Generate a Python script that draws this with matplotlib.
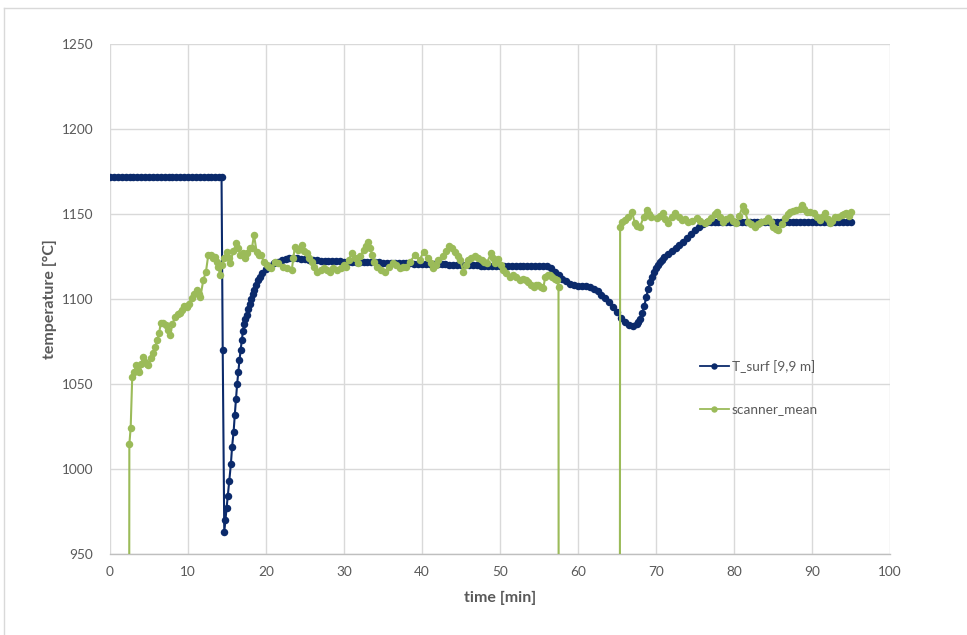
import numpy as np
import matplotlib
matplotlib.use("Agg")
import matplotlib.pyplot as plt
from matplotlib.lines import Line2D

plt.rcParams['font.family'] = ['Lato', 'DejaVu Sans']

# ---------------- data ----------------
x_ticks = [0, 10, 20, 30, 40, 50, 60, 70, 80, 90, 100]
y_ticks = [950, 1000, 1050, 1100, 1150, 1200, 1250]

series_names = ["T_surf [9,9 m]", "scanner_mean"]

# T_surf : flat start (0 .. 14.0 every 0.5 min)
ts_t_a = np.arange(0, 14.01, 0.5)
ts_v_a = [1172, 1172, 1172, 1172, 1172, 1172, 1172, 1172, 1172, 1172,
          1172, 1172, 1172, 1172, 1172, 1172, 1172, 1172, 1172, 1172,
          1172, 1172, 1172, 1172, 1172, 1172, 1172, 1172, 1172]
# T_surf : drop and recovery
ts_t_b = [14.3, 14.45, 14.65, 14.8, 14.95, 15.1, 15.3, 15.5, 15.65, 15.85,
          16.0, 16.15, 16.3, 16.45, 16.6, 16.75, 16.9, 17.05, 17.2, 17.35,
          17.5, 17.7, 17.9, 18.1, 18.3, 18.5, 18.75, 19.0, 19.25]
ts_v_b = [1172, 1070, 963, 970, 977, 984, 993, 1003, 1013, 1022,
          1032, 1041, 1050, 1057, 1064, 1070, 1076, 1081, 1085, 1088,
          1090.5, 1094, 1097, 1100, 1103, 1105.5, 1108, 1111, 1113]
# T_surf : 19.5 .. 67.5 every 0.5 min
ts_t_c = np.arange(19.5, 67.51, 0.5)
ts_v_c = [1115, 1117.5, 1119.5, 1121, 1122, 1123, 1123.5, 1124, 1124, 1124,
          1123.8, 1123.5, 1123.2, 1123, 1122.8, 1122.6, 1122.5, 1122.4, 1122.3, 1122.2,
          1122.1, 1122, 1122, 1121.9, 1121.8, 1121.8, 1121.7, 1121.6, 1121.6, 1121.5,
          1121.5, 1121.4, 1121.3, 1121.3, 1121.2, 1121.1, 1121, 1121, 1120.9, 1120.8,
          1120.8, 1120.7, 1120.6, 1120.6, 1120.5, 1120.4, 1120.4, 1120.3, 1120.2, 1120.2,
          1120.1, 1120, 1120, 1119.9, 1119.8, 1119.8, 1119.7, 1119.6, 1119.6, 1119.5,
          1119.5, 1119.5, 1119.5, 1119.5, 1119.5, 1119.5, 1119.5, 1119.5, 1119.5, 1119.5,
          1119.5, 1119.5, 1119.5, 1119.5, 1118, 1116, 1114, 1112, 1110.5, 1109,
          1108, 1107.8, 1107.8, 1107.5, 1107, 1106, 1104.5, 1102.5, 1100.3, 1098,
          1095.5, 1092.5, 1089, 1086.5, 1084.5, 1084, 1085]
# T_surf : steep rise 67.75 .. 71.0 every 0.25 min
ts_t_d = np.arange(67.75, 71.01, 0.25)
ts_v_d = [1086.5, 1088.5, 1092, 1096, 1101, 1106, 1110, 1113, 1115.8, 1118,
          1120, 1121.5, 1123, 1124.5]
# T_surf : 71.5 .. 95 every 0.5 min
ts_t_e = np.arange(71.5, 95.01, 0.5)
ts_v_e = [1126.5, 1128.5, 1130, 1131.5, 1133.5, 1136, 1138.5, 1140.5, 1142.5, 1144,
          1145, 1145.3, 1145, 1145, 1145, 1145, 1145, 1145, 1145, 1145,
          1145, 1145, 1145, 1145, 1145, 1145, 1145, 1145, 1145, 1145,
          1145, 1145, 1145, 1145, 1145, 1145, 1145, 1145, 1145, 1145,
          1145, 1145, 1145, 1145, 1145, 1145, 1145, 1145]

# scanner_mean (0 = no reading, below axis range)
sc_t = [2.3, 2.48, 2.65, 2.85, 3.1, 3.33, 3.55, 3.76, 4.0, 4.27,
        4.5, 4.7, 4.91, 5.2, 5.56, 5.8, 6.07, 6.3, 6.5, 6.8,
        7.18, 7.45, 7.7, 8.0, 8.33, 8.7, 9.0, 9.19, 9.5, 9.83,
        10.1, 10.47, 10.8, 11.1, 11.35, 11.6, 11.96, 12.3, 12.6, 12.9,
        13.2, 13.46, 13.7, 13.9, 14.1, 14.35, 14.6, 14.96, 15.2, 15.4,
        15.8, 16.2, 16.45, 16.7, 17.0, 17.3, 17.6, 17.95, 18.2, 18.46,
        18.8, 19.1, 19.4, 19.7, 20.1, 20.4, 20.7, 21.15, 21.6, 22.2,
        22.7, 23.3, 23.5, 23.7, 24.1, 24.6, 24.9, 25.2, 25.5, 25.9,
        26.2, 26.5, 27.0, 27.4, 27.8, 28.2, 28.6, 29.1, 29.6, 30.0,
        30.3, 30.6, 31.0, 31.4, 31.8, 32.1, 32.5, 32.8, 33.1, 33.35,
        33.6, 33.9, 34.2, 34.7, 35.3, 35.8, 36.3, 36.7, 37.2, 37.6,
        38.0, 38.5, 39.1, 39.7, 40.2, 40.8, 41.1, 41.45, 41.8, 42.1,
        42.7, 43.1, 43.5, 43.9, 44.2, 44.6, 44.9, 45.3, 45.6, 45.9,
        46.3, 46.8, 47.2, 47.65, 48.0, 48.3, 48.85, 49.1, 49.4, 49.8,
        50.1, 50.4, 50.8, 51.3, 51.7, 52.1, 52.5, 53.0, 53.3, 53.6,
        54.0, 54.3, 54.6, 54.9, 55.2, 55.55, 55.8, 56.1, 56.4, 56.7,
        57.05, 57.3, 57.5, 57.6, 65.25, 65.4, 65.7, 66.0, 66.4, 66.9,
        67.3, 67.6, 67.95, 68.4, 68.8, 69.1, 69.4, 70.1, 70.5, 70.9,
        71.2, 71.6, 72.0, 72.4, 72.9, 73.3, 73.7, 74.1, 74.6, 75.2,
        75.7, 76.3, 76.7, 77.1, 77.5, 77.8, 78.2, 78.6, 79.0, 79.5,
        79.9, 80.3, 80.7, 81.1, 81.4, 81.8, 82.2, 82.7, 83.1, 83.5,
        84.0, 84.4, 84.7, 85.0, 85.4, 85.7, 86.1, 86.5, 86.9, 87.2,
        87.6, 88.0, 88.4, 88.7, 89.0, 89.3, 89.8, 90.2, 90.6, 91.0,
        91.3, 91.7, 92.0, 92.3, 92.6, 92.9, 93.3, 93.8, 94.1, 94.4,
        94.7, 95.0]
sc_v = [0, 1014.5, 1024.3, 1054, 1057, 1061, 1058, 1057.3, 1062, 1066,
        1063, 1062, 1061, 1065, 1068, 1072, 1076, 1080, 1085.7, 1086,
        1084.7, 1082, 1078.8, 1085, 1089.6, 1091, 1092, 1093.5, 1096, 1095.5,
        1097, 1100.4, 1103, 1105.3, 1103, 1101.4, 1111.2, 1116, 1125.9, 1126,
        1124, 1124.9, 1122, 1119, 1114, 1120, 1124, 1127.8, 1124, 1121,
        1128, 1132.8, 1130, 1126, 1127, 1124, 1127, 1129.8, 1130, 1137.6,
        1127.8, 1126, 1126, 1122, 1120, 1119, 1118, 1122, 1121, 1119,
        1118, 1117, 1124, 1130.8, 1129, 1131.8, 1128, 1126.9, 1124, 1122,
        1119, 1116, 1117, 1118, 1117, 1116, 1118, 1117, 1118, 1120,
        1119, 1123, 1126.9, 1124, 1121, 1125, 1128.8, 1131, 1133.7, 1130,
        1125.9, 1122, 1119, 1117, 1116, 1119, 1121, 1120, 1118, 1119,
        1119, 1122, 1126, 1123, 1127.8, 1124, 1121, 1118, 1120, 1123,
        1125, 1128, 1131.2, 1130, 1127.8, 1125, 1123, 1116, 1120, 1123,
        1124, 1125, 1124, 1123, 1122, 1121, 1126.9, 1124, 1121, 1123.3,
        1120, 1117, 1115, 1113, 1114, 1113, 1111, 1112, 1111, 1110,
        1108, 1107, 1108.5, 1108, 1107, 1106.3, 1113, 1114, 1114, 1113,
        1112, 1111, 1107, 0, 0, 1142.5, 1145, 1146.5, 1148, 1151.4,
        1144.5, 1143, 1142.5, 1148, 1152.4, 1150, 1148.4, 1147.5, 1149, 1150.4,
        1147, 1144.5, 1148, 1150.4, 1148, 1146.5, 1147, 1145.5, 1146, 1147.5,
        1146, 1144.5, 1146, 1147.5, 1150, 1151.4, 1148, 1145.5, 1147, 1148.4,
        1146, 1144.5, 1149, 1154.7, 1152, 1145.5, 1144, 1142.5, 1144, 1145.5,
        1146, 1147.5, 1145, 1142.5, 1141, 1140.6, 1144, 1147.5, 1150, 1151.4,
        1152, 1152.4, 1153, 1155.3, 1153, 1151.4, 1151, 1150.4, 1148, 1146.5,
        1148, 1150.4, 1147, 1144.5, 1146, 1148.4, 1148, 1149.4, 1150, 1150.4,
        1149, 1151.4]

ts_t = np.concatenate([ts_t_a, ts_t_b, ts_t_c, ts_t_d, ts_t_e])
ts_v = np.concatenate([ts_v_a, ts_v_b, ts_v_c, ts_v_d, ts_v_e])

# ---------------- style ----------------
NAVY = '#0B2A6B'
GREEN = '#9BBB59'
GRID = '#D9D9D9'
TXT = '#595959'
MS = 5.4

W, H = 967, 635
fig = plt.figure(figsize=(W / 100, H / 100), dpi=100)
ax = fig.add_axes([110 / W, 1 - 554 / H, 780 / W, 510 / H])

ax.plot(ts_t, ts_v, color=NAVY, lw=1.5, marker='o', ms=MS,
        markeredgewidth=0, label=series_names[0], zorder=3)
ax.plot(sc_t, sc_v, color=GREEN, lw=1.5, marker='o', ms=MS,
        markeredgewidth=0, label=series_names[1], zorder=4)

ax.set_xlim(0, 100)
ax.set_ylim(950, 1250)
ax.set_xticks(x_ticks)
ax.set_yticks(y_ticks)
ax.set_xticklabels([str(v) for v in x_ticks])
ax.set_yticklabels([str(v) for v in y_ticks])
ax.grid(True, color=GRID, lw=1.0, zorder=0)
ax.set_axisbelow(True)
for s in ['top', 'right', 'left']:
    ax.spines[s].set_visible(False)
ax.spines['bottom'].set_color('#BFBFBF')
ax.spines['bottom'].set_linewidth(1.0)
ax.tick_params(axis='both', length=0, labelsize=9.8, labelcolor=TXT)
ax.tick_params(axis='y', pad=12)
ax.tick_params(axis='x', pad=9)

ax.set_xlabel('time [min]', fontsize=11.5, fontweight='bold', color=TXT)
ax.set_ylabel('temperature [°C]', fontsize=11.5, fontweight='bold', color=TXT)
ax.xaxis.set_label_coords(0.5, -0.072)
ax.yaxis.set_label_coords(-0.068, 0.5)

handles = [Line2D([], [], color=NAVY, lw=1.3, marker='o', ms=4.6, markeredgewidth=0),
           Line2D([], [], color=GREEN, lw=1.3, marker='o', ms=4.6, markeredgewidth=0)]
leg = fig.legend(handles, series_names, loc='center left',
                 bbox_to_anchor=(700 / W, 1 - 387.5 / H), frameon=False,
                 fontsize=9.8, labelspacing=2.25, handlelength=2.1,
                 handletextpad=0.25, borderpad=0, borderaxespad=0)
for t in leg.get_texts():
    t.set_color(TXT)

# chart-area border
fig.add_artist(Line2D([4 / W, 1], [1 - 8 / H, 1 - 8 / H], color=GRID, lw=1.0,
                      transform=fig.transFigure))
fig.add_artist(Line2D([4 / W, 4 / W], [0, 1 - 8 / H], color=GRID, lw=1.0,
                      transform=fig.transFigure))

fig.savefig('out.png', dpi=100)
